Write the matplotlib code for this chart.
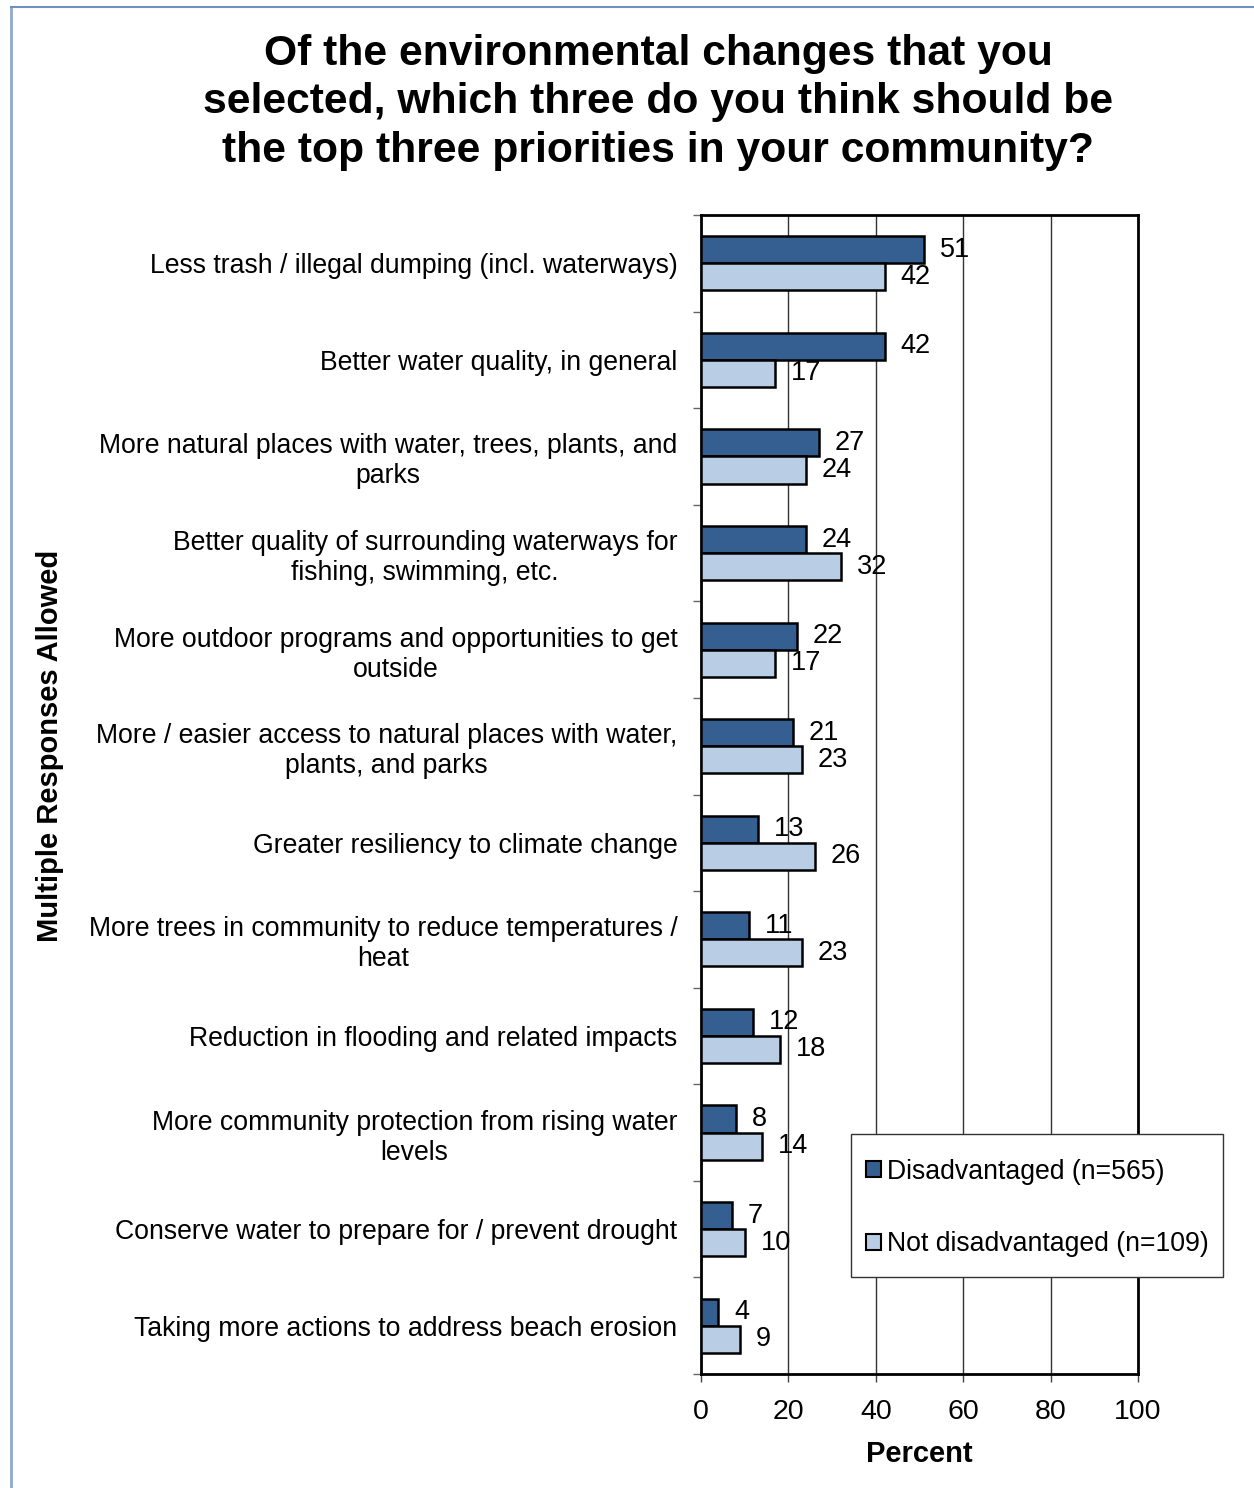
import matplotlib.pyplot as plt
import numpy as np
from matplotlib.lines import Line2D
from matplotlib.patches import Rectangle

plt.rcParams['font.family'] = ['Liberation Sans', 'DejaVu Sans']

# data
categories = [
    'Less trash / illegal dumping (incl. waterways)',
    'Better water quality, in general',
    'More natural places with water, trees, plants, and\nparks',
    'Better quality of surrounding waterways for\nfishing, swimming, etc.',
    'More outdoor programs and opportunities to get\noutside',
    'More / easier access to natural places with water,\nplants, and parks',
    'Greater resiliency to climate change',
    'More trees in community to reduce temperatures /\nheat',
    'Reduction in flooding and related impacts',
    'More community protection from rising water\nlevels',
    'Conserve water to prepare for / prevent drought',
    'Taking more actions to address beach erosion',
]
disadvantaged = [51, 42, 27, 24, 22, 21, 13, 11, 12, 8, 7, 4]
not_disadvantaged = [42, 17, 24, 32, 17, 23, 26, 23, 18, 14, 10, 9]
series_names = ['Disadvantaged (n=565)', 'Not disadvantaged (n=109)']
x_ticks = [0, 20, 40, 60, 80, 100]

dark = '#365F91'
light = '#B9CDE5'

W, H = 1254, 1488
fig = plt.figure(figsize=(W / 100, H / 100), dpi=100)
ax = fig.add_axes([701 / W, 1 - 1374 / H, 437 / W, 1159 / H])

n = len(categories)
y = np.arange(n)
h = 0.28
ax.barh(y - h / 2, disadvantaged, height=h, color=dark, edgecolor='black', linewidth=1.8, zorder=3)
ax.barh(y + h / 2, not_disadvantaged, height=h, color=light, edgecolor='black', linewidth=1.8, zorder=3)

for i in range(n):
    ax.text(disadvantaged[i] + 3.6, y[i] - h / 2, str(disadvantaged[i]),
            va='center', ha='left', fontsize=19.5, zorder=4)
    ax.text(not_disadvantaged[i] + 3.6, y[i] + h / 2, str(not_disadvantaged[i]),
            va='center', ha='left', fontsize=19.5, zorder=4)

ax.set_ylim(n - 0.5, -0.5)
ax.set_xlim(0, 100)
ax.set_xticks(x_ticks)
ax.set_xticklabels([str(t) for t in x_ticks], fontsize=20.5)
ax.set_yticks(y)
ax.set_yticklabels(categories, fontsize=19.2, ha='right', multialignment='center')
ax.tick_params(axis='y', length=0, pad=17)
ax.set_yticks(np.arange(n + 1) - 0.5, minor=True)
ax.tick_params(axis='y', which='minor', length=6, width=1, color='#666666')
ax.tick_params(axis='x', length=6, width=1, color='#444444', pad=12)
ax.grid(axis='x', color='#333333', linewidth=1, zorder=0)
for s in ax.spines.values():
    s.set_linewidth(2)

ax.set_xlabel('Percent', fontsize=21, fontweight='bold', labelpad=11)
fig.text(50 / W, 1 - 746 / H, 'Multiple Responses Allowed', rotation=90, fontsize=21,
         fontweight='bold', ha='center', va='center')

fig.text(0.525, 1 - 34 / H, 'Of the environmental changes that you\nselected, which three do you think should be\nthe top three priorities in your community?',
         ha='center', va='top', fontsize=30.7, fontweight='bold', linespacing=1.27)

# legend: frame drawn separately so padding matches the original box
fig.add_artist(Rectangle((851 / W, 1 - 1277 / H), 372 / W, 143 / H, transform=fig.transFigure,
                         facecolor='white', edgecolor='#333333', linewidth=1, zorder=5))
handles = [plt.Rectangle((0, 0), 1, 1, facecolor=dark, edgecolor='black', linewidth=1.5),
           plt.Rectangle((0, 0), 1, 1, facecolor=light, edgecolor='black', linewidth=1.5)]
leg = fig.legend(handles, series_names, loc='center left',
                 bbox_to_anchor=(866 / W, 1 - 1208 / H), fontsize=19.2,
                 frameon=False, handlelength=0.55, handleheight=0.55, handletextpad=0.25,
                 labelspacing=1.75, borderpad=0, borderaxespad=0)
leg.set_zorder(6)

# figure border on left and top
fig.add_artist(Line2D([10.5 / W, 10.5 / W], [0, 1 - 7 / H], color='#8EA9D6', linewidth=2))
fig.add_artist(Line2D([10.5 / W, 1], [1 - 7 / H, 1 - 7 / H], color='#6F8FC4', linewidth=1.5))

fig.savefig('out.png', dpi=100)
